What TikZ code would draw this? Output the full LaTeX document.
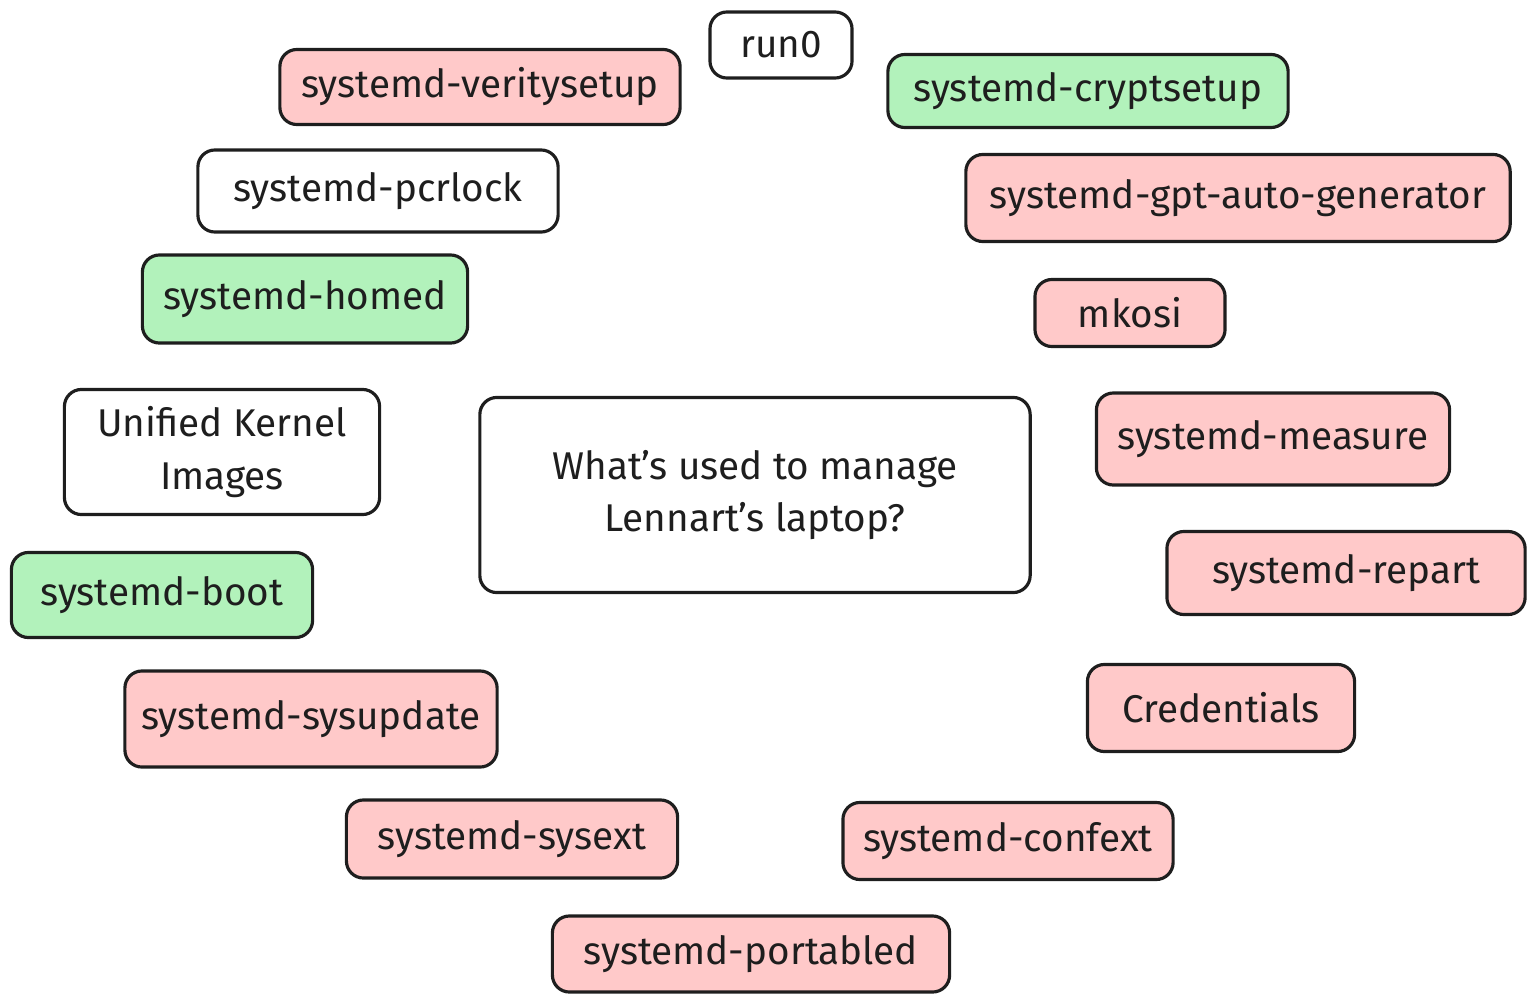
\documentclass[tikz,border=0pt]{standalone}
\usepackage{fontspec}
\setmainfont{Fira Sans}
\definecolor{ink}{RGB}{30,30,30}
\definecolor{pk}{RGB}{255,201,201}
\definecolor{gr}{RGB}{178,242,187}

\begin{document}
\begin{tikzpicture}[
    x=0.01cm, y=-0.01cm,
    box/.style={
        draw=ink, line width=0.9pt, rounded corners=0.17cm,
        fill=white, align=center, inner sep=0pt,
        font=\fontsize{11}{15}\selectfont, text=ink
    },
    p/.style={box, fill=pk},
    g/.style={box, fill=gr}
]
    \useasboundingbox (0,0) rectangle (1528,994);

    \node (question) [box, minimum width=5.5cm, minimum height=1.95cm] at (755,495)
        {What's used to manage\\Lennart's laptop?};

    \node (run0) [box, minimum width=1.42cm, minimum height=0.66cm] at (781,45) {run0};
    \node (veritysetup) [p, minimum width=4cm, minimum height=0.75cm] at (480,87) {systemd-veritysetup};
    \node (cryptsetup) [g, minimum width=4cm, minimum height=0.73cm] at (1088,91) {systemd-cryptsetup};
    \node (pcrlock) [box, minimum width=3.6cm, minimum height=0.82cm] at (378,191) {systemd-pcrlock};
    \node (gptauto) [p, minimum width=5.44cm, minimum height=0.87cm] at (1238,198) {systemd-gpt-auto-generator};
    \node (homed) [g, minimum width=3.25cm, minimum height=0.88cm] at (305,299) {systemd-homed};
    \node (mkosi) [p, minimum width=1.9cm, minimum height=0.67cm] at (1130,313) {mkosi};
    \node (uki) [box, minimum width=3.15cm, minimum height=1.25cm] at (222,452) {Unified Kernel\\Images};
    \node (measure) [p, minimum width=3.53cm, minimum height=0.92cm] at (1273,439) {systemd-measure};
    \node (boot) [g, minimum width=3.01cm, minimum height=0.85cm] at (162,595) {systemd-boot};
    \node (repart) [p, minimum width=3.58cm, minimum height=0.83cm] at (1346,573) {systemd-repart};
    \node (sysupdate) [p, minimum width=3.72cm, minimum height=0.96cm] at (311,719) {systemd-sysupdate};
    \node (credentials) [p, minimum width=2.67cm, minimum height=0.87cm] at (1221,708) {Credentials};
    \node (sysext) [p, minimum width=3.31cm, minimum height=0.78cm] at (512,839) {systemd-sysext};
    \node (confext) [p, minimum width=3.3cm, minimum height=0.77cm] at (1008,841) {systemd-confext};
    \node (portabled) [p, minimum width=3.97cm, minimum height=0.76cm] at (751,954) {systemd-portabled};

\end{tikzpicture}
\end{document}
